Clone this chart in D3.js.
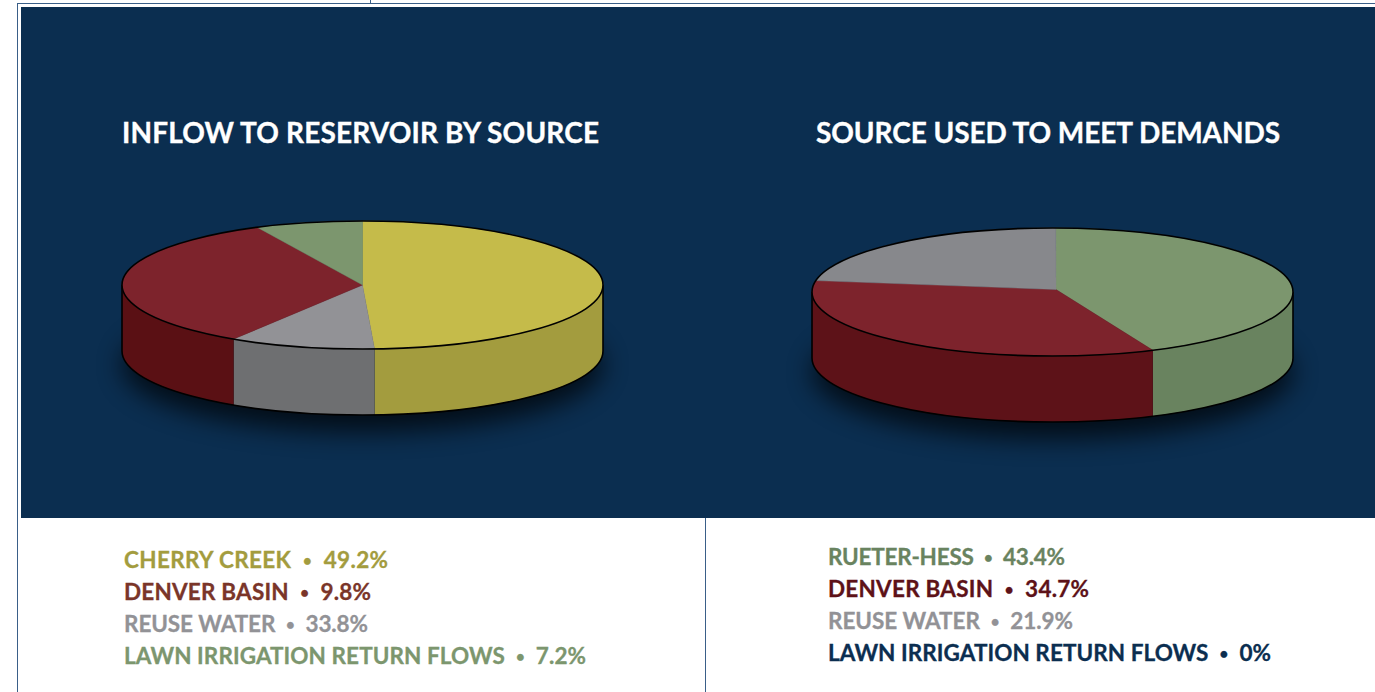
<!DOCTYPE html>
<html>
<head>
<meta charset="utf-8">
<script src="https://cdn.jsdelivr.net/npm/d3@7"></script>
<style>
  html, body { margin: 0; padding: 0; background: #fff; overflow: hidden; }
  svg { display: block; }
  text { font-family: Lato, "Open Sans", sans-serif; font-weight: 700; white-space: pre; }
</style>
</head>
<body>
<svg id="chart" width="1375" height="692"></svg>
<script>
// Reservoir inflow figures, clockwise from twelve o'clock
const inflowValues = [49.2, 9.8, 33.8, 7.2];
const inflowTop = ["#c5bb4a", "#929296", "#7d232c", "#7c966e"];
const inflowSide = ["#a39c3e", "#6e6f71", "#5a1014", "#69835f"];

// Demand supply figures, clockwise from twelve o'clock
const demandValues = [43.4, 34.7, 21.9];
const demandTop = ["#7c966e", "#7d232c", "#87888c"];
const demandSide = ["#69835f", "#5d1218", "#6e6f71"];

// Legend rows
const inflowNames = ["CHERRY CREEK", "DENVER BASIN", "REUSE WATER", "LAWN IRRIGATION RETURN FLOWS"];
const inflowLegendValues = [49.2, 9.8, 33.8, 7.2];
const inflowLegendColors = ["#a39c3e", "#7a3529", "#929296", "#7c966e"];
const inflowWidths = [264, 247, 244, 462];

const demandNames = ["RUETER-HESS", "DENVER BASIN", "REUSE WATER", "LAWN IRRIGATION RETURN FLOWS"];
const demandLegendValues = [43.4, 34.7, 21.9, 0];
const demandLegendColors = ["#69835f", "#5d1218", "#929296", "#0b2e50"];
const demandWidths = [237, 261, 245, 443];

const svg = d3.select("#chart");
const defs = svg.append("defs");
defs.append("filter").attr("id", "soft")
  .attr("x", "-20%").attr("y", "-50%").attr("width", "140%").attr("height", "200%")
  .append("feGaussianBlur").attr("stdDeviation", 13);

// Page frame and panel
const frame = "#3a5f88";
svg.append("rect").attr("x", 21).attr("y", 7).attr("width", 1354).attr("height", 511).attr("fill", "#0b2e50");
[[17, 3, 1375, 3], [17, 3, 17, 692], [370, 0, 370, 3], [705, 518, 705, 692]].forEach(([x1, y1, x2, y2]) => {
  svg.append("line").attr("x1", x1).attr("y1", y1).attr("x2", x2).attr("y2", y2)
    .attr("stroke", frame).attr("stroke-width", 1).attr("shape-rendering", "crispEdges");
});

// Draws one extruded pie seen from above
function drawPie(cfg) {
  const { cx, cy, rx, ry, depth, values, top, side, rotate, seamShift, apexDx, apexDy } = cfg;
  const start = rotate * Math.PI / 180;
  const arcs = d3.pie().sort(null).startAngle(start).endAngle(start + 2 * Math.PI)(values);
  const pt = (a, dy = 0) => [cx + rx * Math.sin(a), cy - ry * Math.cos(a) + dy];
  const g = svg.append("g");

  // Soft shadow on the panel under the body
  g.append("ellipse").attr("cx", cx).attr("cy", cy + depth + 14)
    .attr("rx", rx).attr("ry", ry + 3)
    .attr("fill", "#000").attr("opacity", 0.7).attr("filter", "url(#soft)");

  // Front wall: only the angles between 90° and 270° face the viewer
  const lo = Math.PI / 2, hi = 3 * Math.PI / 2;
  const walls = arcs
    .map((d, i) => ({ a: Math.max(d.startAngle, lo), b: Math.min(d.endAngle, hi), i }))
    .filter(d => d.b > d.a);
  g.selectAll("path.wall").data(walls).join("path")
    .attr("class", "wall")
    .attr("fill", d => side[d.i])
    .attr("d", d => {
      const s = pt(d.a), e = pt(d.b);
      const sl = pt(d.a, depth), el = pt(d.b, depth);
      return `M${s}L${sl}A${rx},${ry} 0 0 1 ${el}L${e}A${rx},${ry} 0 0 0 ${s}Z`;
    });

  // Wall outline
  g.append("path")
    .attr("fill", "none").attr("stroke", "#000").attr("stroke-width", 1.6)
    .attr("d", `M${cx - rx},${cy}L${cx - rx},${cy + depth}A${rx},${ry} 0 0 0 ${cx + rx},${cy + depth}L${cx + rx},${cy}`);

  // Top face wedges; the seam at twelve o'clock leans slightly with the view
  const apex = [cx + apexDx, cy + apexDy];
  const seam = seamShift * Math.PI / 180;
  const n = arcs.length;
  g.selectAll("path.top").data(arcs).join("path")
    .attr("class", "top")
    .attr("fill", (d, i) => top[i])
    .attr("stroke", (d, i) => top[i]).attr("stroke-width", 0.4)
    .attr("d", (d, i) => {
      const a0 = d.startAngle + (i === 0 ? seam : 0);
      const a1 = d.endAngle + (i === n - 1 ? seam : 0);
      const large = a1 - a0 > Math.PI ? 1 : 0;
      return `M${apex}L${pt(a0)}A${rx},${ry} 0 ${large} 1 ${pt(a1)}Z`;
    });

  // Rim of the top face
  g.append("ellipse").attr("cx", cx).attr("cy", cy).attr("rx", rx).attr("ry", ry)
    .attr("fill", "none").attr("stroke", "#000").attr("stroke-width", 1.6);
}

drawPie({ cx: 362.5, cy: 285, rx: 240.5, ry: 64, depth: 66, values: inflowValues, top: inflowTop, side: inflowSide, rotate: 0, seamShift: 0, apexDx: 0, apexDy: 0 });
drawPie({ cx: 1052.5, cy: 292, rx: 240.5, ry: 64, depth: 66, values: demandValues, top: demandTop, side: demandSide, rotate: -0.9, seamShift: 1.7, apexDx: 3.5, apexDy: -2.5 });

// Tracks a text out to a set width
function fitWidth(node, width) {
  const natural = node.getComputedTextLength();
  const count = node.textContent.length;
  d3.select(node).attr("letter-spacing", (width - natural) / (count - 1));
}

// Panel headings
[["INFLOW TO RESERVOIR BY SOURCE", 122, 477], ["SOURCE USED TO MEET DEMANDS", 816, 464]].forEach(([t, x, w]) => {
  const title = svg.append("text").attr("x", x).attr("y", 143).attr("font-size", 28).attr("fill", "#fff")
    .attr("stroke", "#fff").attr("stroke-width", 0.35).text(t);
  fitWidth(title.node(), w);
});

// Legend block beneath each pie, with a small raised bullet set wide between name and value
function drawLegend(x, y0, names, values, colors, widths) {
  const rows = svg.append("g").selectAll("text").data(names).join("text")
    .attr("x", x).attr("y", (d, i) => y0 + i * 32)
    .attr("font-size", 22.5)
    .attr("fill", (d, i) => colors[i])
    .attr("stroke", (d, i) => colors[i]).attr("stroke-width", 0.3);
  rows.append("tspan").text(d => `${d}\u00a0\u00a0`);
  rows.append("tspan").attr("font-size", 15).attr("dy", -2).text("•");
  rows.append("tspan").attr("dy", 2).text((d, i) => `\u00a0\u00a0${values[i]}%`);
  rows.each(function (d, i) { fitWidth(this, widths[i]); });
}
drawLegend(124, 568, inflowNames, inflowLegendValues, inflowLegendColors, inflowWidths);
drawLegend(828, 565, demandNames, demandLegendValues, demandLegendColors, demandWidths);
</script>
</body>
</html>
